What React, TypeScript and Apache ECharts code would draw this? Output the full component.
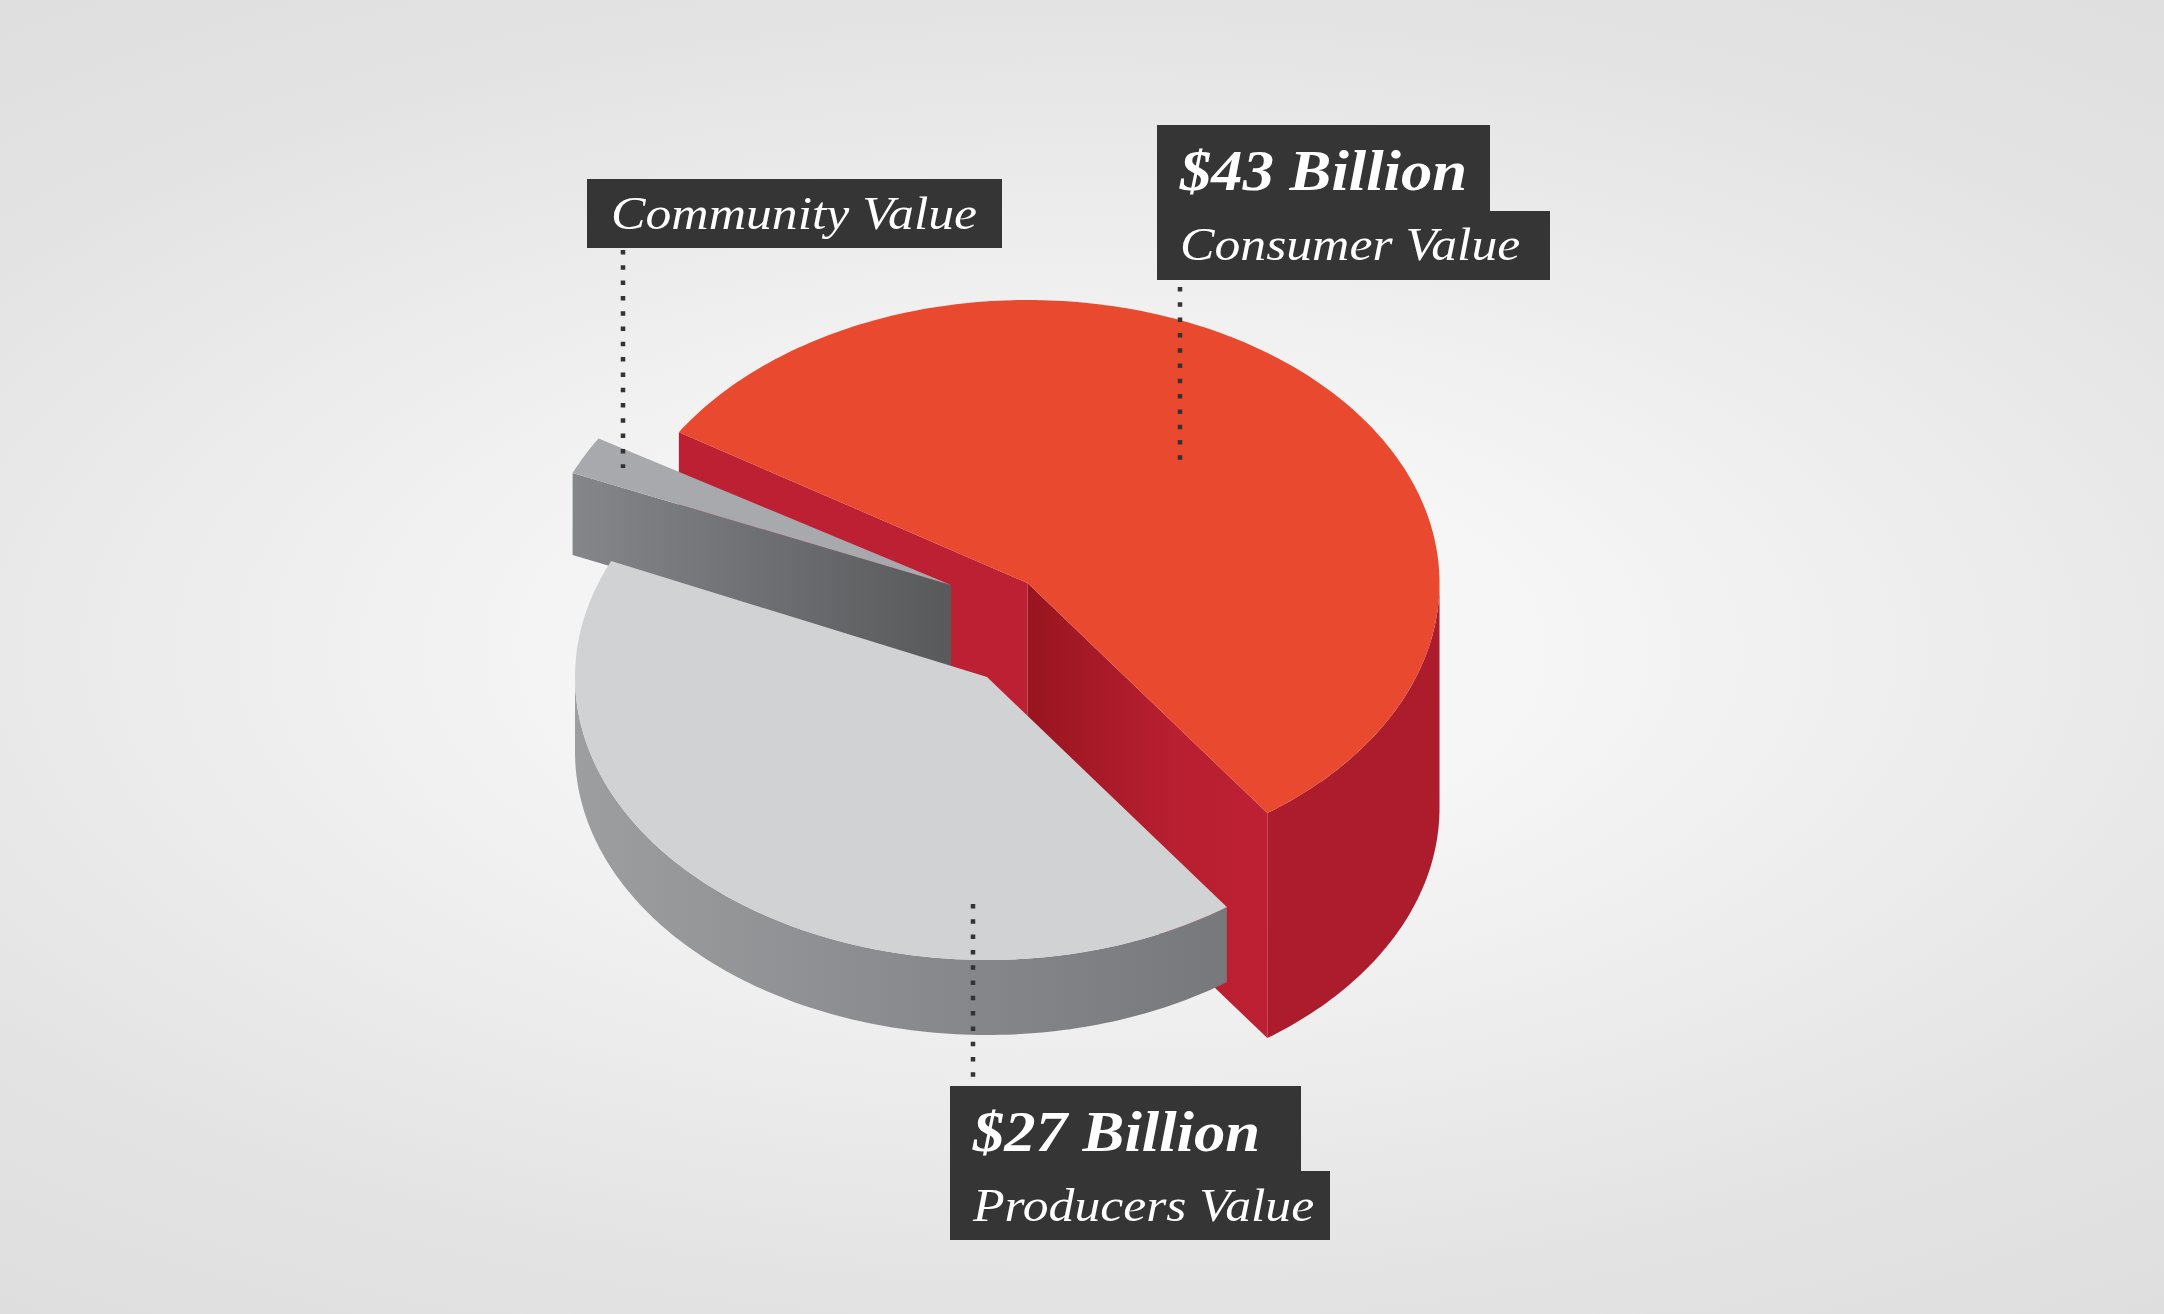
import React, { useEffect, useRef } from "react";
import * as echarts from "echarts";

// Data
const categories = ["Consumer Value", "Community Value", "Producers Value"];
const billions = [43, null, 27];
const sliceStartDeg = [212.2, 203.3, 54.4];
const sliceSweepDeg = [202.2, 7.9, 149.8];

// Layout (page pixels on hidden axes)
const W = 2164;
const H = 1314;
const RX = 412;
const RY = 283;
const centers = [
  [1027.5, 583],
  [951, 585],
  [987, 677],
];
const depths = [225, 82, 75];
const topFill = ["#E94A2F", "#A8A9AC", "#D1D2D4"];
const grad = (stops: [number, string][]) =>
  new echarts.graphic.LinearGradient(0, 0, 1, 0, stops.map(([offset, color]) => ({ offset, color })));
const outerFill = [
  "#AC1C2D",
  null,
  grad([
    [0, "#9D9EA0"],
    [0.5, "#8A8B8E"],
    [1, "#77787B"],
  ]),
];
const startFaceFill = [
  "#BC2032",
  grad([
    [0, "#85868A"],
    [1, "#58595B"],
  ]),
  null,
];
const endFaceFill = [
  grad([
    [0, "#98151F"],
    [0.6, "#B81F30"],
    [1, "#BD2032"],
  ]),
  null,
  null,
];

const leaderLines = [
  [[623, 250], [623, 468]],
  [[1180, 287], [1180, 462]],
  [[973, 904], [973, 1079]],
];

const boxes = [
  [587, 179, 415, 69],
  [1157, 125, 333, 87],
  [1157, 211, 393, 69],
  [950, 1086, 351, 86],
  [950, 1171, 380, 69],
];
const BIG = 'italic bold 58px "Liberation Serif"';
const SMALL = 'italic 47px "Liberation Serif"';
const texts: [string, number, number, string, number][] = [
  [categories[1], 611, 213, SMALL, 1.1],
  [`$${billions[0]} Billion`, 1180, 170, BIG, 1.08],
  [categories[0], 1180, 244, SMALL, 1.1],
  [`$${billions[2]} Billion`, 973, 1131, BIG, 1.08],
  [categories[2], 973, 1205, SMALL, 1.1],
];

function renderSlice(_params: any, api: any) {
  const i = _params.dataIndex;
  const start = api.value(0);
  const sweep = api.value(1);
  const end = start + sweep;
  const [cx, cy] = centers[i];
  const d = depths[i];
  const P = (x: number, y: number) => api.coord([x, y]);
  const rim = (deg: number, dy = 0) => {
    const a = (deg * Math.PI) / 180;
    return P(cx + RX * Math.cos(a), cy + RY * Math.sin(a) + dy);
  };
  const arc = (from: number, to: number, dy = 0) => {
    const out: number[][] = [];
    const n = Math.max(2, Math.ceil(Math.abs(to - from)));
    for (let k = 0; k <= n; k++) out.push(rim(from + ((to - from) * k) / n, dy));
    return out;
  };
  const poly = (points: number[][], fill: any) => ({
    type: "polygon",
    shape: { points },
    style: { fill },
    silent: true,
  });
  const children: any[] = [];
  const faceFrom = (deg: number, fill: any) => {
    children.push(poly([P(cx, cy), rim(deg), rim(deg, d), P(cx, cy + d)], fill));
  };
  if (startFaceFill[i]) faceFrom(start, startFaceFill[i]);
  if (endFaceFill[i]) faceFrom(end, endFaceFill[i]);
  if (outerFill[i]) {
    // the part of the rim that faces the viewer: 0..180 degrees, modulo a turn
    const shift = end > 360 ? 360 : 0;
    const a0 = Math.max(start, shift);
    const a1 = Math.min(end, shift + 180);
    if (a1 > a0) {
      children.push(poly([...arc(a0, a1), ...arc(a1, a0, d)], outerFill[i]));
    }
  }
  children.push(poly([P(cx, cy), ...arc(start, end)], topFill[i]));
  return { type: "group", children };
}

export default function App() {
  const ref = useRef<HTMLDivElement>(null);
  useEffect(() => {
    const chart = echarts.init(ref.current!, undefined, { renderer: "svg" });
    chart.setOption({
      animation: false,
      grid: { left: 0, right: 0, top: 0, bottom: 0 },
      xAxis: { type: "value", min: 0, max: W, show: false },
      yAxis: { type: "value", min: 0, max: H, inverse: true, show: false },
      series: [
        {
          type: "custom",
          coordinateSystem: "cartesian2d",
          clip: false,
          silent: true,
          z: 2,
          renderItem: renderSlice,
          data: categories.map((name, i) => ({ name, value: [sliceStartDeg[i], sliceSweepDeg[i]] })),
        },
        ...leaderLines.map((points) => ({
          type: "line",
          data: points,
          symbol: "none",
          silent: true,
          z: 3,
          lineStyle: { color: "#333333", width: 4.5, type: [4.5, 10.8] },
        })),
      ],
      graphic: [
        {
          type: "rect",
          z: -10,
          silent: true,
          // wider than the page, so that the gradient's ellipse is flatter than the page
          shape: { x: -298, y: 0, width: 2760, height: H },
          style: {
            fill: new echarts.graphic.RadialGradient(0.5, 0.495, 0.65, [
              { offset: 0, color: "#FAFAFA" },
              { offset: 0.27, color: "#F5F5F5" },
              { offset: 0.6, color: "#E9E9E9" },
              { offset: 0.76, color: "#E3E3E3" },
              { offset: 1, color: "#DEDEDE" },
            ]),
          },
        },
        ...boxes.map(([x, y, width, height]) => ({
          type: "rect",
          z: 5,
          silent: true,
          shape: { x, y, width, height },
          style: { fill: "#353535" },
        })),
        ...texts.map(([text, x, y, font, scaleX]) => ({
          type: "text",
          z: 6,
          silent: true,
          x,
          y,
          scaleX,
          style: { text, font, fill: "#FFFFFF", textAlign: "left", textVerticalAlign: "middle" },
        })),
      ],
    });
    return () => chart.dispose();
  }, []);
  return <div ref={ref} style={{ position: "fixed", left: 0, top: 0, width: W, height: H }} />;
}
